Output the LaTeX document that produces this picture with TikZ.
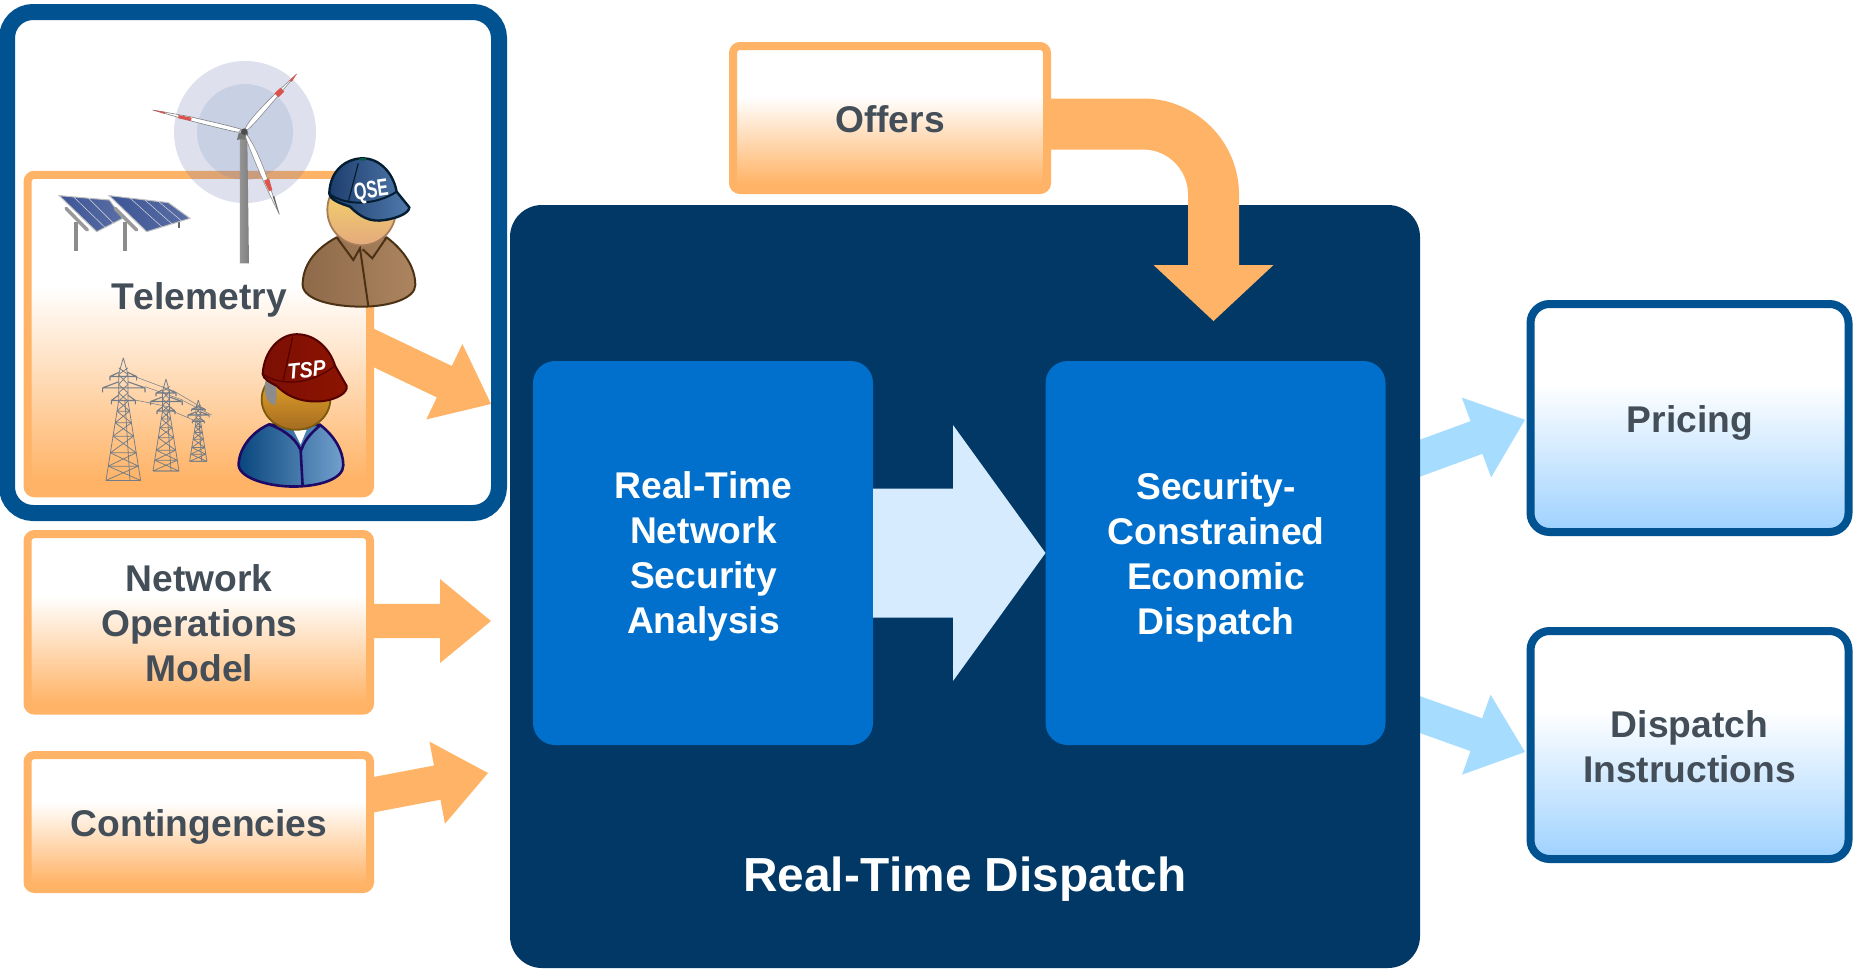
\documentclass[tikz,border=0pt]{standalone}
\usepackage{fontspec}
\usepackage{graphicx}
\setmainfont[Kerning=Off]{Liberation Sans}
\usetikzlibrary{calc}
\definecolor{orng}{HTML}{FFB366}
\definecolor{navy}{HTML}{013866}
\definecolor{midblue}{HTML}{0070CC}
\definecolor{edgeblue}{HTML}{005291}
\definecolor{paleblue}{HTML}{D6EBFD}
\definecolor{skyblue}{HTML}{A6DDFF}
\definecolor{skyfill}{HTML}{9FD2FF}
\definecolor{txtgray}{HTML}{434E58}
\definecolor{lattice}{HTML}{737C86}
\definecolor{haloA}{HTML}{5A69A5}
\definecolor{haloB}{HTML}{4D73B6}
\definecolor{bladered}{HTML}{D9534F}
\definecolor{panelA}{HTML}{3C5596}
\definecolor{panelB}{HTML}{5A6EA5}
\definecolor{tspL}{HTML}{08467D}
\definecolor{tspR}{HTML}{73A0CD}
\definecolor{tspE}{HTML}{1E0A66}
\definecolor{tspHt}{HTML}{EEAC28}
\definecolor{tspHb}{HTML}{A56C22}
\definecolor{tspHe}{HTML}{7B5A0C}
\definecolor{capRa}{HTML}{7D0F05}
\definecolor{capRb}{HTML}{C41A00}
\definecolor{capRc}{HTML}{8C1400}
\definecolor{capRe}{HTML}{550000}
\definecolor{qseL}{HTML}{8E6A4A}
\definecolor{qseM}{HTML}{BC946E}
\definecolor{qseR}{HTML}{AC8460}
\definecolor{qseE}{HTML}{4C3214}
\definecolor{qseHt}{HTML}{F6DC64}
\definecolor{qseHb}{HTML}{E4AA7D}
\definecolor{qseHe}{HTML}{A67C5B}
\definecolor{capBa}{HTML}{1E3E6E}
\definecolor{capBb}{HTML}{507AAC}
\definecolor{capBe}{HTML}{031E32}
\definecolor{capBtn}{HTML}{0A5A46}
\pgfdeclareverticalshading{orangefade}{100bp}{color(0bp)=(orng);color(27bp)=(orng);color(57.5bp)=(white);color(100bp)=(white)}
\pgfdeclareverticalshading{skyfade}{100bp}{color(0bp)=(skyfill);color(26bp)=(skyfill);color(28bp)=(skyfill!92!white);color(57.5bp)=(white);color(100bp)=(white)}
\pgfdeclarelayer{back}
\pgfdeclarelayer{arrows}
\pgfsetlayers{back,arrows,main}
\newcommand{\blockarrow}[6]{%
  \coordinate (ba) at ($(#2)!#5pt!(#1)$);
  \fill[#6] ($(#1)!#3pt!90:(#2)$) -- ($(ba)!#3pt!90:(#2)$) -- ($(ba)!#4pt!90:(#2)$) -- (#2)
    -- ($(ba)!#4pt!-90:(#2)$) -- ($(ba)!#3pt!-90:(#2)$) -- ($(#1)!#3pt!-90:(#2)$) -- cycle;}
\newcommand{\pylon}[3]{%
  \begin{scope}[xshift=#1pt,yshift=-#2pt,x={#3*0.3333pt},y={-#3*0.3333pt},lattice,line width=.75pt]
    \draw (0,0) -- (-14,50) -- (-14,130) (0,0) -- (14,50) -- (14,130);
    \draw (-14,130) -- (-52,368) (14,130) -- (52,368) (5,130) -- (20,368) (-52,368) -- (52,368);
    \foreach \ya/\yb in {130/160,160/195,195/235,235/285,285/325,325/368}{
      \pgfmathsetmacro{\ha}{14+(\ya-130)*38/238}
      \pgfmathsetmacro{\hb}{14+(\yb-130)*38/238}
      \draw (-\ha,\ya) -- (\hb,\yb) (\ha,\ya) -- (-\hb,\yb) (-\hb,\yb) -- (\hb,\yb);}
    \foreach \ya/\yb in {30/50,50/80,80/105,105/130}{
      \draw (-14,\ya) -- (14,\yb) (14,\ya) -- (-14,\yb);}
    \draw[line width=1.1pt] (-40,56) -- (40,56) (-40,56) -- (-14,44) (40,56) -- (14,44) (-40,56) -- (-40,68) (40,56) -- (40,68);
    \draw[line width=1.1pt] (-62,90) -- (65,90) (-62,90) -- (-14,72) (65,90) -- (14,72) (-62,90) -- (-62,104) (65,90) -- (65,104);
    \draw[line width=1.1pt] (-36,128) -- (36,128) (-36,128) -- (-14,112) (36,128) -- (14,112) (-36,128) -- (-36,140) (36,128) -- (36,140);
  \end{scope}}
\begin{document}
\begin{tikzpicture}[x=1pt,y=-1pt,
  orangebox/.style={rectangle,draw=orng,line width=8pt,shade,shading=orangefade,rounded corners=7pt,outer sep=0pt,inner sep=0pt},
  skybox/.style={rectangle,draw=edgeblue,line width=8pt,shade,shading=skyfade,rounded corners=19pt,outer sep=0pt,inner sep=0pt},
  bluebox/.style={rectangle,fill=midblue,rounded corners=22pt,outer sep=0pt,inner sep=0pt,minimum width=340pt,minimum height=384pt},
  darklabel/.style={font=\fontsize{37.2}{45}\bfseries\selectfont,text=txtgray,align=center,anchor=base,inner sep=0pt},
  whitelabel/.style={font=\fontsize{37.2}{45}\bfseries\selectfont,text=white,align=center,anchor=base,inner sep=0pt},
  capletters/.style={text=white,inner sep=0pt}]
\useasboundingbox (0,0) rectangle (1854,972);
\begin{pgfonlayer}{back}
  \fill[white] (0,0) rectangle (1854,972);
\end{pgfonlayer}

% outer telemetry frame
\node[rectangle,draw=edgeblue,line width=16pt,rounded corners=26pt,outer sep=0pt,minimum width=492pt,minimum height=501pt] (frame) at (253,262.5) {};

% orange source boxes
\node[orangebox,minimum width=342.5pt,minimum height=318.5pt] (telebox) at (198.8,334) {};
\node[orangebox,minimum width=342.5pt,minimum height=176.5pt] (netbox) at (198.8,622.3) {};
\node[orangebox,minimum width=342.5pt,minimum height=134pt] (contbox) at (198.8,822) {};

% main block
\node[rectangle,fill=navy,rounded corners=32pt,outer sep=0pt,minimum width=910pt,minimum height=763pt] (rtd) at (965,586.5) {};
\node[bluebox] (rtnsa) at (703,553) {};
\node[bluebox] (sced) at (1215.5,553) {};
\blockarrow{rtnsa.east}{sced.west}{64.5}{128}{92.5}{paleblue}

% offers
\node[orangebox,minimum width=314pt,minimum height=144pt] (offers) at (890,118) {};
\coordinate (offstart) at ($(offers.east)+(0,6)$);
\coordinate (offtip) at (1213.5,321);
\draw[orng,line width=51pt,rounded corners=70.5pt] (offstart) -| ($(offtip)+(0,-55)$);
\fill[orng] ($(offtip)+(-60,-56)$) -- ($(offtip)+(60,-56)$) -- (offtip) -- cycle;

% output boxes
\node[skybox,minimum width=318pt,minimum height=228pt] (pricing) at (1689.5,418) {};
\node[skybox,minimum width=318pt,minimum height=228pt] (dispatch) at (1689.5,745) {};

% block arrows, behind the boxes
\begin{pgfonlayer}{arrows}
  \coordinate (teletail) at ($(telebox.east)+(-14,5.5)$);
  \coordinate (teletip) at (491,404);
  \blockarrow{teletail}{teletip}{17.4}{41.8}{51.7}{orng}
  \coordinate (nettail) at ($(netbox.east)+(-14,-1.3)$);
  \coordinate (nettip) at (491,621);
  \blockarrow{nettail}{nettip}{17.2}{42}{51}{orng}
  \coordinate (conttail) at ($(contbox.east)+(-14,-24)$);
  \coordinate (conttip) at (488,773);
  \blockarrow{conttail}{conttip}{17.4}{41.8}{51.7}{orng}
  \coordinate (pricetail) at ($(rtd.east)+(-20,-121)$);
  \coordinate (pricetip) at ($(pricing.west)+(-5.5,1.7)$);
  \blockarrow{pricetail}{pricetip}{17.4}{42.5}{51.7}{skyblue}
  \coordinate (disptail) at ($(rtd.east)+(-20,121)$);
  \coordinate (disptip) at ($(dispatch.west)+(-5.5,7)$);
  \blockarrow{disptail}{disptip}{17.4}{42.5}{51.7}{skyblue}
\end{pgfonlayer}

% texts (anchored at the baseline of the last line)
\node[darklabel] (telelabel) at (199,309.5) {Telemetry};
\node[darklabel] (netlabel) at (199.3,681) {Network\\Operations\\Model};
\node[darklabel] (contlabel) at (199,836) {Contingencies};
\node[darklabel] (offlabel) at (890,132) {Offers};
\node[darklabel] (pricelabel) at (1690,432) {Pricing};
\node[darklabel] (displabel) at (1689.5,782.5) {Dispatch\\Instructions};
\node[whitelabel] (rtnsalabel) at (703.5,633.5) {Real-Time\\Network\\Security\\Analysis};
\node[whitelabel] (scedlabel) at (1216,634.5) {Security-\\Constrained\\Economic\\Dispatch};
\node[whitelabel,font=\fontsize{47.8}{55}\bfseries\selectfont] (rtdlabel) at (965,891) {Real-Time Dispatch};

% wind turbine
\fill[haloA,opacity=.2] (245,132) circle[radius=71pt];
\fill[haloB,opacity=.15] (245,132) circle[radius=48pt];
\begin{scope}[xshift=140pt,yshift=-50pt,x=.3333pt,y=-.3333pt]
  \shade[left color=black!42,middle color=black!10,right color=black!50] (300,265) -- (322,265) -- (327,640) -- (300,640) -- cycle;
  \fill[black!55] (291,270) -- (296,250) -- (318,240) -- (325,250) -- (320,268) -- (300,268) -- cycle;
  \filldraw[fill=white,draw=black!45,line width=.6pt] (314,240) .. controls (320,222) and (345,190) .. (405,132) -- (470,72) -- (412,140) .. controls (370,190) and (340,225) .. (322,240) -- cycle;
  \fill[bladered] (403,130) -- (422,113) -- (433,125) -- (416,142) -- cycle;
  \fill[bladered] (448,92) -- (470,72) -- (456,95) -- cycle;
  \filldraw[fill=white,draw=black!50,line width=.6pt] (305,238) .. controls (260,225) and (200,212) .. (150,200) -- (38,180) -- (150,212) .. controls (200,225) and (260,240) .. (295,247) -- cycle;
  \fill[bladered] (115,195) -- (155,203) -- (153,213) -- (115,205) -- cycle;
  \fill[bladered] (38,180) -- (75,186) -- (75,192) -- cycle;
  \filldraw[fill=white,draw=black!45,line width=.6pt] (319,252) .. controls (345,285) and (375,360) .. (390,410) -- (418,493) -- (380,415) .. controls (355,360) and (330,300) .. (317,262) -- cycle;
  \fill[bladered] (372,392) -- (387,385) -- (397,420) -- (387,424) -- cycle;
  \fill[black!60] (398,440) -- (403,438) -- (418,493) -- cycle;
  \fill[black!70] (313,245) circle[radius=3.3pt];
\end{scope}

% solar panels
\begin{scope}[xshift=50pt,yshift=-180pt,x=.3333pt,y=-.3333pt]
  \fill[black!60] (383,120) rectangle (390,145);
  \fill[black!45] (72,125) rectangle (85,212);
  \fill[black!45] (218,125) rectangle (232,212);
  \shadedraw[left color=panelA,right color=panelB,draw=black!25,line width=1pt] (28,47) -- (178,60) -- (218,115) -- (140,155) -- cycle;
  \draw[black!15,line width=.5pt] (70,50) -- (165,142) (115,54) -- (190,129);
  \draw[black!40,line width=3.5pt,line cap=round] (48,85) -- (112,150);
  \shadedraw[left color=panelA,right color=panelB,draw=black!25,line width=1pt] (178,47) -- (355,68) -- (420,115) -- (290,155) -- cycle;
  \draw[black!15,line width=.5pt] (240,54) -- (335,140) (285,60) -- (365,131) (325,64) -- (395,123);
  \draw[black!40,line width=3.5pt,line cap=round] (195,85) -- (260,150);
\end{scope}

% pylons
\begin{scope}[xshift=80pt,yshift=-320pt,x=.3333pt,y=-.3333pt]
  \draw[lattice,line width=.5pt] (165,170) -- (285,215) (195,200) -- (308,240) (165,240) -- (275,262) (280,212) -- (378,270) (305,240) -- (395,285) (265,268) -- (340,300);
\end{scope}
\pylon{123.3}{357.8}{1}
\pylon{166}{379}{0.75}
\pylon{198.3}{400}{0.5}

% TSP person
\begin{scope}[xshift=80pt,yshift=-320pt,x=.3333pt,y=-.3378pt]
  \shadedraw[left color=tspL,right color=tspR,draw=tspE,line width=2.6pt]
    (565,310) .. controls (510,335) and (476,385) .. (476,430) .. controls (480,470) and (570,493) .. (640,493) .. controls (720,493) and (790,470) .. (790,430) .. controls (790,385) and (760,340) .. (720,310) -- cycle;
  \fill[white] (640,325) -- (680,325) -- (662,368) -- cycle;
  \draw[tspE,line width=2.6pt] (565,308) .. controls (600,320) and (645,345) .. (662,385) -- (668,492) (722,310) .. controls (700,330) and (675,350) .. (664,385);
  \shadedraw[top color=tspHt,bottom color=tspHb,draw=tspHe,line width=1.8pt] (648,235) ellipse[x radius=103,y radius=90];
  \fill[black!45] (560,170) .. controls (545,210) and (560,250) .. (585,252) .. controls (595,225) and (590,190) .. (575,170) -- cycle;
  \shadedraw[left color=capRa,middle color=capRb,right color=capRc,draw=capRe,line width=2pt]
    (548,160) .. controls (552,90) and (600,42) .. (650,42) .. controls (710,42) and (752,90) .. (765,135) -- (800,195) .. controls (805,215) and (770,235) .. (730,240) .. controls (680,245) and (630,235) .. (590,195) .. controls (570,185) and (550,175) .. (548,160) -- cycle;
  \draw[capRe,line width=1.2pt] (638,50) -- (610,178) (548,160) .. controls (600,195) and (690,195) .. (765,135);
  \node[capletters,font=\fontsize{22}{22}\bfseries\itshape\selectfont,rotate=6] (tsplabel) at (680,148) {\scalebox{.9}[1]{TSP}};
\end{scope}

% QSE person
\begin{scope}[xshift=140pt,yshift=-50pt,x=.3333pt,y=-.3333pt]
  \shadedraw[left color=qseL,middle color=qseM,right color=qseR,draw=qseE,line width=2pt]
    (590,562) .. controls (520,600) and (488,650) .. (488,705) .. controls (490,750) and (580,770) .. (665,770) .. controls (750,770) and (826,745) .. (826,705) .. controls (826,650) and (790,600) .. (740,562) -- cycle;
  \draw[qseE,line width=2pt] (590,562) -- (640,630) -- (660,595) -- (685,768) (740,562) -- (697,625) -- (668,598);
  \shadedraw[top color=qseHt,bottom color=qseHb,draw=qseHe,line width=1.8pt] (665,480) ellipse[x radius=103,y radius=106];
  \shadedraw[left color=capBa,right color=capBb,draw=capBe,line width=2.4pt]
    (568,430) .. controls (570,360) and (620,325) .. (668,325) .. controls (720,325) and (760,370) .. (770,425) -- (808,472) .. controls (808,490) and (770,505) .. (735,510) .. controls (690,518) and (660,500) .. (630,470) .. controls (600,460) and (570,450) .. (568,430) -- cycle;
  \draw[capBe,line width=1.2pt] (655,340) -- (625,455);
  \draw[capBe,line width=2pt] (568,432) .. controls (620,470) and (710,465) .. (770,425);
  \fill[capBtn] (668,328) ellipse[x radius=12,y radius=4];
  \node[capletters,font=\fontsize{24}{24}\bfseries\selectfont,rotate=8] (qselabel) at (694,425) {\scalebox{.68}[1]{QSE}};
\end{scope}
\end{tikzpicture}
\end{document}
